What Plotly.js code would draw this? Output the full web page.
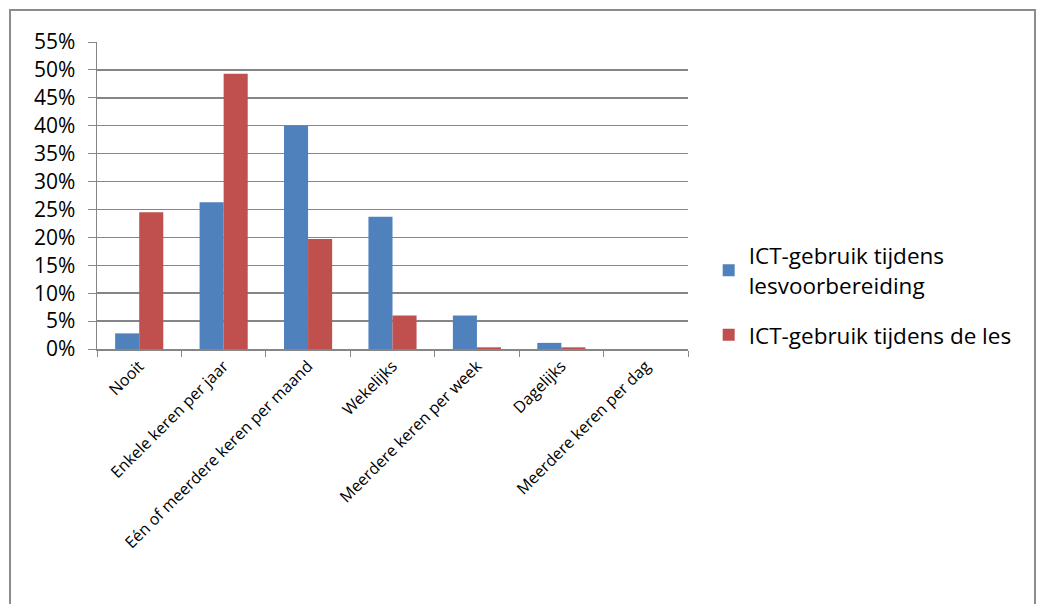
<!DOCTYPE html>
<html>
<head>
<meta charset="utf-8">
<script src="https://cdn.plot.ly/plotly-3.0.1.min.js"></script>
<style>
html,body{margin:0;padding:0;background:#fff;width:1038px;height:604px;overflow:hidden;}
#chart{position:absolute;left:0;top:0;width:1038px;height:604px;}
#frame{position:absolute;left:9px;top:9px;width:1027px;height:600px;border:2px solid #8c8c8c;box-sizing:border-box;pointer-events:none;}
</style>
</head>
<body>
<div id="chart"></div>
<div id="frame"></div>
<script>
const categories = ["Nooit", "Enkele keren per jaar", "Eén of meerdere keren per maand", "Wekelijks", "Meerdere keren per week", "Dagelijks", "Meerdere keren per dag"];
const lesvoorbereiding = [0.028, 0.263, 0.400, 0.237, 0.060, 0.011, 0.0];
const tijdensLes = [0.245, 0.493, 0.197, 0.060, 0.003, 0.003, 0.0];
const seriesNames = ["ICT-gebruik tijdens<br>lesvoorbereiding", "ICT-gebruik tijdens de les"];

const font = "'Open Sans', sans-serif";
const data = [
  {type:'bar', x:categories, y:lesvoorbereiding, name:seriesNames[0], marker:{color:'#4F81BD'}, legend:'legend'},
  {type:'bar', x:categories, y:tijdensLes, name:seriesNames[1], marker:{color:'#C0504D'}, legend:'legend2'}
];
const legendBase = {xanchor:'left', yanchor:'middle', font:{size:22.5, family:font}, itemwidth:30,
                    bgcolor:'rgba(0,0,0,0)', borderwidth:0};
const layout = {
  width:1038, height:604,
  margin:{l:97, r:350, t:42, b:255},
  paper_bgcolor:'rgba(0,0,0,0)', plot_bgcolor:'#fff',
  barmode:'group', bargap:0.43, bargroupgap:0,
  font:{family:font, color:'#000'},
  xaxis:{tickangle:-45, tickfont:{size:16}, ticks:'outside', tickson:'boundaries', ticklen:6,
         tickcolor:'#868686', showline:true, linecolor:'#868686', linewidth:1.5, showgrid:false, fixedrange:true},
  yaxis:{range:[0,0.55], dtick:0.05, tickformat:'.0%', tickfont:{size:21}, ticks:'outside', ticklen:8,
         ticklabelstandoff:8,
         tickcolor:'#868686', gridcolor:'#868686', gridwidth:1.5, showline:true, linecolor:'#868686', linewidth:1.5,
         zeroline:false, fixedrange:true},
  showlegend:true,
  legend:Object.assign({}, legendBase, {x:1.035, y:0.256}),
  legend2:Object.assign({}, legendBase, {x:1.035, y:0.045})
};
Plotly.newPlot('chart', data, layout, {displayModeBar:false, staticPlot:true});
</script>
</body>
</html>
